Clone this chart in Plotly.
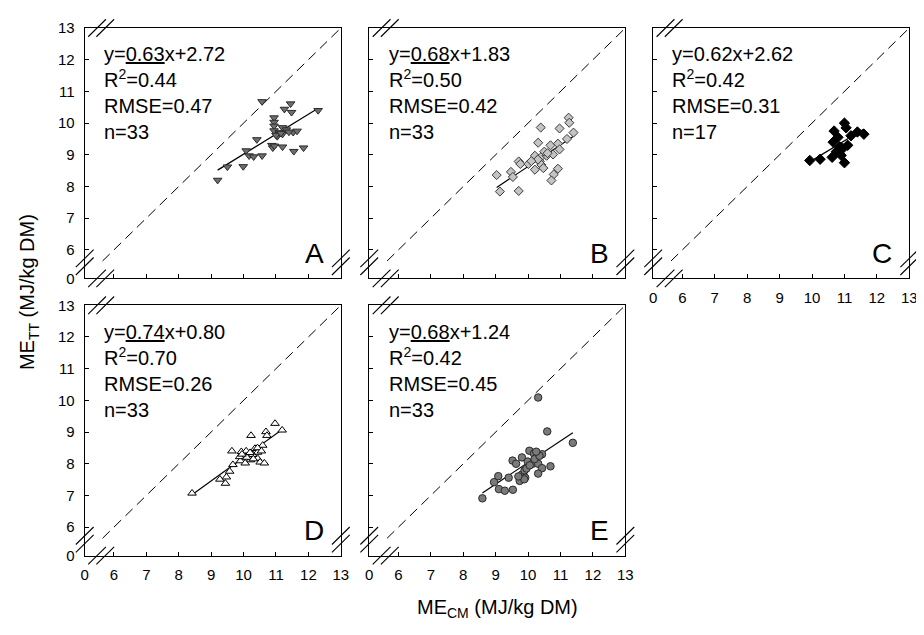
import plotly.graph_objects as go

# The page adds an 8 px body margin; the figure is sized to fit the window
OFF = 8
W, H = 924 - OFF, 635 - OFF
FONT = "Arial, Liberation Sans, sans-serif"

# ---------------- data ----------------
A_x = [10.57, 11.45, 11.26, 11.48, 10.94, 10.94, 10.94, 10.94, 11.20, 11.04, 11.32, 11.20, 11.53,
       10.41, 10.87, 10.90, 11.20, 11.55, 11.85, 10.08, 10.17, 10.31, 10.57, 9.50, 9.99, 9.20,
       12.30, 11.10, 11.00, 11.40, 11.65, 10.95, 11.15]
A_y = [10.68, 10.61, 10.44, 10.34, 10.17, 10.03, 9.91, 9.76, 9.86, 9.58, 9.79, 9.65, 9.71,
       9.48, 9.30, 9.22, 9.25, 9.11, 9.22, 9.13, 8.97, 8.94, 8.97, 8.62, 8.63, 8.20,
       10.40, 9.70, 9.62, 9.72, 9.75, 9.28, 9.68]

B_x = [10.39, 10.97, 11.25, 11.27, 10.31, 10.69, 10.92, 10.97, 10.21, 10.41, 10.57, 10.77, 9.71,
       9.76, 10.01, 10.36, 10.41, 10.21, 10.47, 9.47, 9.53, 9.03, 10.92, 10.79, 10.72, 9.13,
       9.71, 11.20, 11.40, 10.30, 10.50, 10.10, 10.60]
B_y = [9.86, 9.83, 10.17, 10.01, 9.38, 9.30, 9.35, 9.17, 8.97, 8.94, 8.97, 9.01, 8.79,
       8.71, 8.71, 8.79, 8.68, 8.53, 8.58, 8.46, 8.30, 8.36, 8.56, 8.38, 8.19, 7.84,
       7.86, 9.50, 9.70, 8.85, 9.10, 8.80, 9.05]

C_x = [9.93, 10.25, 10.62, 10.65, 10.68, 10.75, 10.80, 10.85, 10.90, 10.95, 11.00, 11.00,
       11.05, 11.10, 11.20, 11.40, 11.60]
C_y = [8.82, 8.86, 8.92, 9.40, 9.75, 9.10, 9.55, 9.25, 8.98, 9.20, 8.75, 10.00,
       9.85, 9.30, 9.60, 9.72, 9.65]

D_x = [8.41, 9.27, 9.44, 9.47, 9.57, 9.64, 9.67, 9.93, 9.90, 10.03, 10.13, 10.23, 10.21,
       10.35, 10.43, 10.43, 10.51, 10.64, 10.59, 10.69, 10.72, 10.97, 11.19, 10.05, 9.88,
       10.28, 10.43, 10.08, 10.10, 10.30, 9.95, 10.55, 10.20]
D_y = [7.07, 7.51, 7.38, 7.58, 7.76, 8.40, 7.97, 8.38, 8.09, 8.27, 8.30, 8.89, 8.12,
       8.48, 8.36, 8.17, 8.05, 8.02, 8.58, 9.01, 8.89, 9.27, 9.06, 8.02, 8.22,
       8.29, 8.50, 8.40, 8.20, 8.15, 8.30, 8.40, 8.35]

E_x = [8.59, 10.31, 10.59, 11.38, 8.95, 9.08, 9.10, 9.28, 9.53, 9.40, 9.52, 9.63, 9.81,
       9.74, 9.81, 9.89, 9.91, 9.88, 10.04, 10.18, 10.43, 9.99, 10.14, 10.31, 10.43, 10.69,
       10.31, 9.95, 10.20, 10.35, 9.70, 10.05, 10.25]
E_y = [6.91, 10.09, 9.02, 8.66, 7.42, 7.61, 7.20, 7.15, 7.18, 7.56, 8.10, 8.00, 8.20,
       7.46, 7.66, 7.79, 7.56, 7.51, 8.41, 8.32, 8.30, 8.07, 8.00, 8.00, 7.86, 7.92,
       7.69, 7.85, 8.15, 8.25, 7.60, 7.95, 8.38]

panel_letters = ["A", "B", "C", "D", "E"]
slopes = [0.63, 0.68, 0.62, 0.74, 0.68]
intercepts = [2.72, 1.83, 2.62, 0.80, 1.24]
r2_vals = ["0.44", "0.50", "0.42", "0.70", "0.42"]
rmse_vals = ["0.47", "0.42", "0.31", "0.26", "0.45"]
n_vals = [33, 33, 17, 33, 33]
slope_underlined = [True, True, False, True, True]

tick_vals = [5.1, 6, 7, 8, 9, 10, 11, 12, 13]
tick_text = ["0", "6", "7", "8", "9", "10", "11", "12", "13"]
axis_range = [5.1, 13]
diag_range = [5.65, 13]

xs = [A_x, B_x, C_x, D_x, E_x]
ys = [A_y, B_y, C_y, D_y, E_y]

# ---------------- styles ----------------
markers = [
    dict(symbol="triangle-down", size=7.5, color="#6e6e6e", line=dict(color="#2a2a2a", width=1)),
    dict(symbol="diamond", size=7, color="#c4c4c4", line=dict(color="#3a3a3a", width=1)),
    dict(symbol="diamond", size=8, color="#000000", line=dict(color="#000000", width=1)),
    dict(symbol="triangle-up", size=7.5, color="#ffffff", line=dict(color="#000000", width=1)),
    dict(symbol="circle", size=7.5, color="#7a7a7a", line=dict(color="#2a2a2a", width=1)),
]

# panel boxes in screen pixels: (left, top)
PW, PH = 259.5, 257.4
boxes = [(81.7, 19.3), (370.0, 19.3), (657.7, 19.3), (81.7, 304.3), (370.0, 304.3)]
show_x_labels = [False, False, True, True, True]
show_y_labels = [True, False, False, True, False]


def px2x(px):
    return (px - OFF) / W


def px2y(py):
    return 1 - (py - OFF) / H


fig = go.Figure()
shapes = []
annotations = []
layout_axes = {}

EQ_FONT = 20

for i in range(5):
    k = "" if i == 0 else str(i + 1)
    xa, ya = "x" + k, "y" + k
    L, T = boxes[i]
    R, B = L + PW, T + PH

    common = dict(range=axis_range, tickvals=tick_vals, ticktext=tick_text,
                  ticks="inside", ticklen=4, tickwidth=1, tickcolor="black",
                  showline=True, linecolor="black", linewidth=1.2, mirror=True,
                  showgrid=False, zeroline=False, fixedrange=True,
                  tickfont=dict(size=15, color="black", family=FONT))
    layout_axes["xaxis" + k] = dict(common, domain=[px2x(L), px2x(R)], anchor=ya,
                                    showticklabels=show_x_labels[i], ticklabelstandoff=5)
    layout_axes["yaxis" + k] = dict(common, domain=[px2y(B), px2y(T)], anchor=xa,
                                    showticklabels=show_y_labels[i], ticklabelstandoff=6)

    # 1:1 dashed line
    fig.add_trace(go.Scatter(x=diag_range, y=diag_range, mode="lines", xaxis=xa, yaxis=ya,
                             line=dict(color="black", width=1, dash="10px,6px"),
                             showlegend=False, hoverinfo="skip"))
    # regression line
    x0, x1 = min(xs[i]), max(xs[i])
    fig.add_trace(go.Scatter(x=[x0, x1], y=[slopes[i] * x0 + intercepts[i], slopes[i] * x1 + intercepts[i]],
                             mode="lines", xaxis=xa, yaxis=ya,
                             line=dict(color="black", width=1.2), showlegend=False, hoverinfo="skip"))
    # points
    fig.add_trace(go.Scatter(x=xs[i], y=ys[i], mode="markers", xaxis=xa, yaxis=ya,
                             marker=markers[i], showlegend=False))

    # equation text block
    s = f"{slopes[i]:.2f}"
    s = f"<u>{s}</u>" if slope_underlined[i] else s
    text = "<br>".join([f"y={s}x+{intercepts[i]:.2f}", f"R<sup>2</sup>={r2_vals[i]}",
                        f"RMSE={rmse_vals[i]}", f"n={n_vals[i]}"])
    annotations.append(dict(text=text, xref="paper", yref="paper", x=px2x(L + 17.5),
                            y=px2y(T + 74 - 0.347 * EQ_FONT), xanchor="left", yanchor="middle",
                            align="left", showarrow=False,
                            font=dict(size=EQ_FONT, color="black", family=FONT)))
    # panel letter
    annotations.append(dict(text=panel_letters[i], xref="paper", yref="paper", x=px2x(R - 15),
                            y=px2y(B - 8), xanchor="right", yanchor="bottom", showarrow=False,
                            font=dict(size=28, color="black", family=FONT)))

    # axis break marks
    d = 9
    for cx in (12.5, 20.8):
        for yy in (T, B):
            shapes.append(dict(type="line", xref="paper", yref="paper",
                               x0=px2x(L + cx - d), y0=px2y(yy + d),
                               x1=px2x(L + cx + d), y1=px2y(yy - d),
                               line=dict(color="black", width=1.1)))
    for cy in (20.5, 12.5):
        for xx in (L, R):
            shapes.append(dict(type="line", xref="paper", yref="paper",
                               x0=px2x(xx - d), y0=px2y(B - cy + d),
                               x1=px2x(xx + d), y1=px2y(B - cy - d),
                               line=dict(color="black", width=1.1)))

# axis titles
annotations.append(dict(text="ME<sub>CM</sub> (MJ/kg DM)", xref="paper", yref="paper",
                        x=px2x(500), y=px2y(616), xanchor="center", yanchor="middle",
                        showarrow=False, font=dict(size=20, color="black", family=FONT)))
annotations.append(dict(text="ME<sub>TT</sub> (MJ/kg DM)", xref="paper", yref="paper",
                        x=px2x(25), y=px2y(291), xanchor="center", yanchor="middle",
                        textangle=-90, showarrow=False,
                        font=dict(size=20, color="black", family=FONT)))

fig.update_layout(width=W, height=H, margin=dict(l=0, r=0, t=0, b=0),
                  paper_bgcolor="white", plot_bgcolor="white",
                  shapes=shapes, annotations=annotations, **layout_axes)

fig.write_html("out.html")
